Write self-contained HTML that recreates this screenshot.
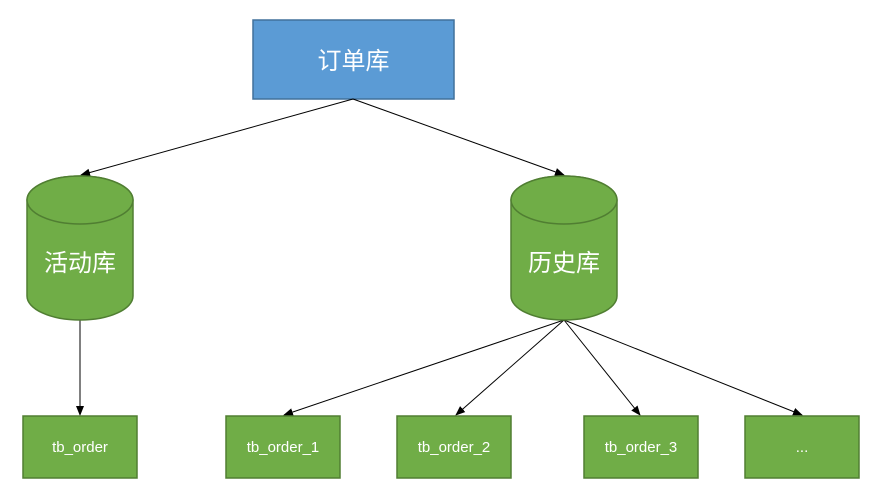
<!DOCTYPE html>
<html><head><meta charset="utf-8"><style>
html,body{margin:0;padding:0;background:#fff;}
svg{display:block;}
text{font-family:"Liberation Sans","Noto Sans CJK SC",sans-serif;fill:#fff;text-anchor:middle;}
</style></head><body>
<svg width="877" height="496" viewBox="0 0 877 496" xmlns="http://www.w3.org/2000/svg">
<defs><marker id="a" markerWidth="10" markerHeight="10" refX="9" refY="5" orient="auto" markerUnits="userSpaceOnUse"><path d="M0,1 L10,5 L0,9 z" fill="#000"/></marker></defs>
<rect x="253" y="20" width="201" height="79" fill="#5b9bd5" stroke="#41719c" stroke-width="1.5"/>
<text x="353.5" y="69" font-size="24">订单库</text>
<g stroke="#000" stroke-width="1" fill="none" marker-end="url(#a)">
<line x1="353" y1="99" x2="81" y2="175"/>
<line x1="353" y1="99" x2="564" y2="175"/>
<line x1="80" y1="320" x2="80" y2="415"/>
<line x1="564" y1="320" x2="284" y2="415"/>
<line x1="564" y1="320" x2="456" y2="415"/>
<line x1="564" y1="320" x2="640" y2="415"/>
<line x1="564" y1="320" x2="802" y2="415"/>
</g>
<g fill="#70ad47" stroke="#507e32" stroke-width="1.5">
<path d="M27,200 A53,24 0 0 1 133,200 L133,296 A53,24 0 0 1 27,296 Z"/>
<ellipse cx="80" cy="200" rx="53" ry="24"/>
<path d="M511,200 A53,24 0 0 1 617,200 L617,296 A53,24 0 0 1 511,296 Z"/>
<ellipse cx="564" cy="200" rx="53" ry="24"/>
<rect x="23" y="416" width="114" height="62"/>
<rect x="226" y="416" width="114" height="62"/>
<rect x="397" y="416" width="114" height="62"/>
<rect x="584" y="416" width="114" height="62"/>
<rect x="745" y="416" width="114" height="62"/>
</g>
<text x="80" y="271" font-size="24">活动库</text>
<text x="564" y="271" font-size="24">历史库</text>
<g font-size="15">
<text x="80" y="452">tb_order</text>
<text x="283" y="452">tb_order_1</text>
<text x="454" y="452">tb_order_2</text>
<text x="641" y="452">tb_order_3</text>
<text x="802" y="452">...</text>
</g>
</svg>
</body></html>
